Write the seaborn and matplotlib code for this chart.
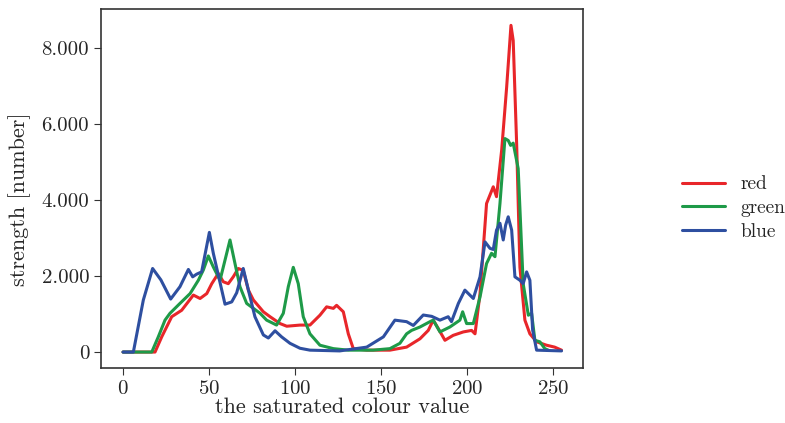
import pandas as pd
import matplotlib.pyplot as plt
import seaborn as sns
from matplotlib.ticker import FuncFormatter

# histogram of saturated colour values
redX = [0, 10, 18.6, 22.5, 28.3, 34.1, 40.9, 44.8, 48.7, 51.6, 55.4, 58.3, 61.2, 64.1, 67, 69.9,
        72.9, 75.8, 81.6, 85.5, 91.3, 95.2, 102.9, 108.7, 114.5, 118.4, 122.3, 124.2, 128.1, 131,
        133.9, 141.7, 155.2, 164.9, 172.7, 177.5, 180.4, 183.3, 187.2, 192, 197.9, 202.7, 204.7,
        207.6, 211.4, 215.3, 217.2, 220.2, 223.1, 225.6, 226.9, 228.9, 230.8, 233.7, 236.6, 240.5,
        246.3, 251, 255]
redY = [0, 0, 0, 400, 930, 1100, 1500, 1410, 1540, 1800, 2070, 1850, 1800, 1980, 2200, 2150,
        1630, 1370, 1060, 930, 750, 680, 710, 710, 970, 1190, 1150, 1230, 1060, 480,
        90, 50, 50, 130, 350, 570, 840, 620, 310, 440, 530, 570, 480,
        1540, 3910, 4350, 4090, 5320, 6980, 8600, 8200, 5480, 2230, 840, 480, 270,
        180, 130, 50]

greenX = [0, 10, 16.7, 20.5, 24.4, 27.3, 33.1, 39, 43.8, 46.7, 49.6, 52.5, 56.4, 59.3, 62.2, 65.1,
          68, 71.9, 75.8, 79.7, 83.5, 89.3, 93.2, 96.1, 99, 101.9, 104.8, 108.7, 114.5, 122.3, 131,
          145.5, 155.2, 161, 164.9, 167.8, 172.7, 178.5, 180.4, 184.3, 190.1, 195.9, 197.5, 199.8,
          203.7, 207.6, 211.4, 214.3, 216.3, 219.2, 222.1, 224, 225.4, 226.9, 229.8, 232.7, 235.7,
          237.6, 239.5, 242.4, 245.3, 247.3]
greenY = [0, 0, 0, 400, 840, 1020, 1280, 1540, 1890, 2160, 2530, 2240, 1890, 2420, 2950, 2330,
          1720, 1280, 1150, 1020, 840, 710, 1020, 1720, 2230, 1800, 930, 480, 180, 90, 50,
          50, 90, 230, 480, 570, 660, 800, 840, 530, 660, 840, 1060, 750,
          750, 1450, 2330, 2600, 2510, 3910, 5620, 5570, 5440, 5500, 4830, 1800, 970,
          1020, 310, 270, 90, 50]

blueX = [0, 6, 11.8, 17.2, 22, 27.7, 33.1, 38, 40.5, 42.8, 45.7, 50.2, 52.5, 59.3, 63.2, 66.1,
         69.9, 72.9, 76.7, 81.6, 84.5, 88.4, 92.2, 97.1, 102.9, 108.7, 126, 141.7, 151.4, 158.1,
         164.9, 168.8, 174.6, 179.5, 184.3, 189.1, 191, 195, 198.8, 200.8, 203.7, 207.6, 210.5,
         213.4, 215.3, 217.2, 219.2, 221.1, 222.5, 224, 226, 227.9, 230.8, 232.7, 234.7, 236.6,
         238.2, 240.5, 255]
blueY = [0, 0, 1370, 2200, 1900, 1395, 1720, 2175, 1980, 2050, 2110, 3150, 2600, 1260, 1320, 1560,
         2200, 1630, 930, 450, 370, 560, 400, 230, 100, 50, 30, 130, 400, 840,
         800, 700, 975, 940, 840, 930, 800, 1280, 1630, 1540, 1410, 1980, 2900,
         2730, 2700, 3210, 3390, 2950, 3340, 3560, 3210, 1980, 1890, 1800, 2110, 1890,
         580, 50, 30]

channelNames = ['red', 'green', 'blue']
channelColors = ['#e8262a', '#1e9a48', '#2e4fa0']

frames = []
for name, xs, ys in zip(channelNames, [redX, greenX, blueX], [redY, greenY, blueY]):
    frames.append(pd.DataFrame({'value': xs, 'strength': ys, 'channel': name}))
df = pd.concat(frames, ignore_index=True)

sns.set_style("ticks")
plt.rcParams['font.family'] = 'cmr10'
plt.rcParams['axes.formatter.use_mathtext'] = True
plt.rcParams['mathtext.fontset'] = 'cm'

fig = plt.figure(figsize=(7.85, 4.23), dpi=100)
ax = fig.add_axes([0.1287, 0.130, 0.614, 0.8487])
sns.lineplot(data=df, x='value', y='strength', hue='channel', hue_order=channelNames,
             palette=dict(zip(channelNames, channelColors)), linewidth=2.2, ax=ax, sort=False,
             estimator=None)

ax.set_xlim(-12.8, 267.5)
ax.set_ylim(-420, 9030)
ax.set_xticks([0, 50, 100, 150, 200, 250])
ax.set_yticks([0, 2000, 4000, 6000, 8000])
ax.yaxis.set_major_formatter(FuncFormatter(lambda v, pos: f'{int(v):,}'.replace(',', '.')))
ax.tick_params(labelsize=15, color='#333333', length=5)
for sp in ax.spines.values():
    sp.set_color('#333333')
    sp.set_linewidth(1.2)
ax.set_xlabel('the saturated colour value', fontsize=16, labelpad=0)
ax.set_ylabel('strength [number]', fontsize=16, labelpad=6)
ax.yaxis.set_label_coords(-0.145, 0.47)

leg = ax.legend(loc='center left', bbox_to_anchor=(1.17, 0.445), frameon=False, fontsize=14,
                handlelength=2.2, labelspacing=0.3)
for line in leg.get_lines():
    line.set_linewidth(2.2)

fig.savefig('out.png', dpi=100)
